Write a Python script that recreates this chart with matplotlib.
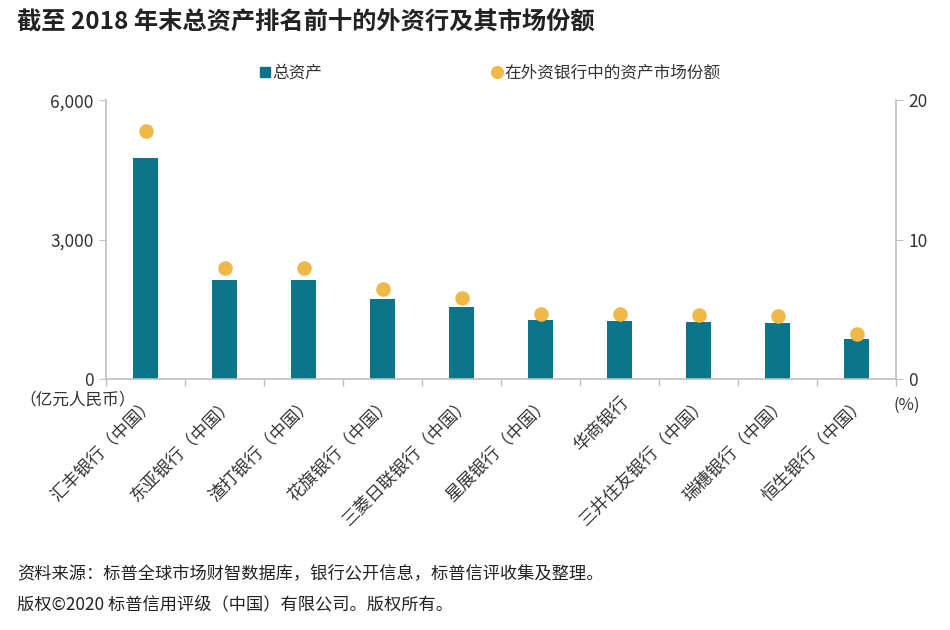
import matplotlib
matplotlib.use("Agg")
import matplotlib.pyplot as plt
from matplotlib.lines import Line2D
from matplotlib.ticker import FuncFormatter, FixedLocator
import numpy as np

plt.rcParams['font.family'] = ['Noto Sans CJK SC', 'DejaVu Sans']

banks = ["汇丰银行（中国）", "东亚银行（中国）", "渣打银行（中国）", "花旗银行（中国）",
         "三菱日联银行（中国）", "星展银行（中国）", "华商银行", "三井住友银行（中国）",
         "瑞穗银行（中国）", "恒生银行（中国）"]
total_assets = [4750, 2140, 2130, 1730, 1545, 1265, 1250, 1235, 1200, 870]
market_share = [17.8, 8.0, 8.0, 6.5, 5.8, 4.7, 4.7, 4.6, 4.5, 3.25]
left_ticks = [0, 3000, 6000]
right_ticks = [0, 10, 20]

bar_color = "#0a7489"
dot_color = "#f0b847"
spine_color = "#bfbfbf"
text_color = "#333333"

fig = plt.figure(figsize=(9.5, 6.3), dpi=100)
ax = fig.add_axes([0.1116, 0.398, 0.8316, 0.443])
ax2 = ax.twinx()

x = np.arange(len(banks))
ax.bar(x, total_assets, width=0.32, color=bar_color, zorder=2)
ax2.scatter(x, market_share, s=110, color=dot_color, zorder=3, linewidths=0)

ax.set_xlim(-0.5, len(banks) - 0.5)
ax.set_ylim(0, 6000)
ax2.set_ylim(0, 20)
ax.yaxis.set_major_locator(FixedLocator(left_ticks))
ax2.yaxis.set_major_locator(FixedLocator(right_ticks))
ax.yaxis.set_major_formatter(FuncFormatter(lambda v, p: f"{int(v):,}"))

ax.set_xticks(x)
ax.set_xticklabels(banks, rotation=45, ha='right', va='top', rotation_mode='anchor',
                   fontsize=12.5, color=text_color)
ax.tick_params(axis='x', which='major', length=0, pad=10)
ax.set_xticks(np.arange(-0.5, len(banks), 1.0), minor=True)
ax.tick_params(axis='x', which='minor', length=5, color=spine_color, width=1)

ax.tick_params(axis='y', length=5, color=spine_color, labelsize=12.5, labelcolor=text_color, pad=4)
ax2.tick_params(axis='y', length=5, color=spine_color, labelsize=12.5, labelcolor=text_color, pad=4)

for a in (ax, ax2):
    a.spines['top'].set_visible(False)
    for s in a.spines.values():
        s.set_color(spine_color)
        s.set_linewidth(1.2)
ax.spines['right'].set_visible(False)
ax2.spines['left'].set_visible(False)
ax2.spines['bottom'].set_visible(False)

fig.text(0.018, 0.966, "截至 2018 年末总资产排名前十的外资行及其市场份额", fontsize=17.5,
         fontweight='bold', color="#222222", va='center', ha='left')

handles = [Line2D([0], [0], marker='s', linestyle='none', color=bar_color, markersize=7.5),
           Line2D([0], [0], marker='o', linestyle='none', color=dot_color, markersize=8.5)]
fig.legend(handles, ["总资产", "在外资银行中的资产市场份额"], loc='center',
           bbox_to_anchor=(0.516, 0.884), ncol=2, frameon=False, fontsize=12,
           handlelength=0.6, handletextpad=0.15, columnspacing=10.2, labelcolor=text_color)

fig.text(0.020, 0.366, "（亿元人民币）", fontsize=12, color=text_color, va='center', ha='left')
fig.text(0.941, 0.356, "(%)", fontsize=12, color=text_color, va='center', ha='left')

fig.text(0.018, 0.090, "资料来源：标普全球市场财智数据库，银行公开信息，标普信评收集及整理。",
         fontsize=12.4, color="#222222", va='center', ha='left')
fig.text(0.018, 0.041, "版权©2020 标普信用评级（中国）有限公司。版权所有。",
         fontsize=12.4, color="#222222", va='center', ha='left')

fig.savefig("out.png", dpi=100)
